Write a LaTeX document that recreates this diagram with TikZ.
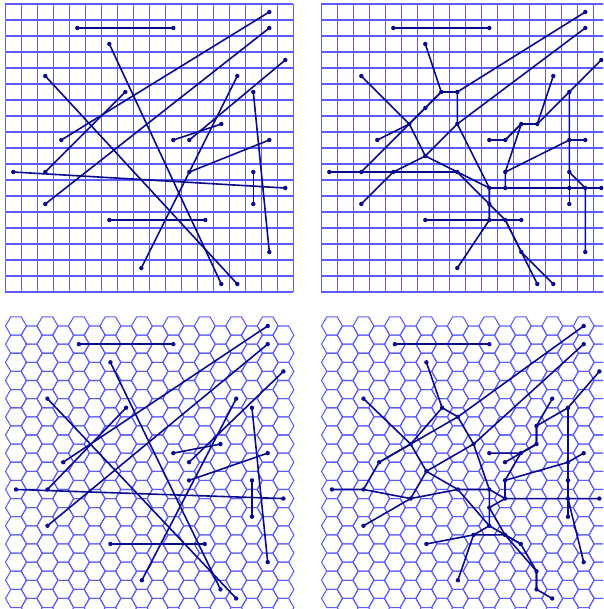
\documentclass[tikz,border=0pt]{standalone}
\usepackage{tikz}
\definecolor{gridblue}{RGB}{92,92,255}
\definecolor{segblue}{RGB}{10,10,145}

\begin{document}
\begin{tikzpicture}[x=1pt,y=-1pt,
  gridline/.style={color=gridblue,line width=1.05pt},
  seg/.style={color=segblue,line width=1.6pt,line join=round,line cap=round},
  dot/.style={fill=segblue}]
\useasboundingbox (0,0) rectangle (603,609);
\clip (0,0) rectangle (603,609);

% square pixels: input (left) and snapped (right)
\begin{scope}[shift={(13.3pt,-12pt)},x=16pt,y=-16pt]
\foreach \k in {0,...,18} {
  \draw[gridline] (\k-0.5,-0.5) -- (\k-0.5,17.5);
  \draw[gridline] (-0.5,\k-0.5) -- (17.5,\k-0.5);
}
\foreach \col in {0,...,17} \foreach \row in {0,...,17} \coordinate (sqa\col-\row) at (\col,\row);
\end{scope}
\begin{scope}[shift={(329.3pt,-12pt)},x=16pt,y=-16pt]
\foreach \k in {0,...,18} {
  \draw[gridline] (\k-0.5,-0.5) -- (\k-0.5,17.5);
  \draw[gridline] (-0.5,\k-0.5) -- (17.5,\k-0.5);
}
\foreach \col in {0,...,17} \foreach \row in {0,...,17} \coordinate (sqb\col-\row) at (\col,\row);
\end{scope}

% hexagonal pixels: input (left) and snapped (right)
\begin{scope}[shift={(16pt,-326pt)},x=15.73pt,y=-15.73pt]
\foreach \col in {0,...,17} \foreach \row in {0,...,15} {
  \coordinate (hxa\col-\row) at ({\col},{(\row+mod(\col,2)/2)*1.1547});
  \draw[gridline] (hxa\col-\row) ++(0.6667,0) -- ++(-0.3333,0.5774) -- ++(-0.6667,0) -- ++(-0.3333,-0.5774) -- ++(0.3333,-0.5774) -- ++(0.6667,0) -- cycle;
}
\end{scope}
\begin{scope}[shift={(332pt,-326pt)},x=15.73pt,y=-15.73pt]
\foreach \col in {0,...,17} \foreach \row in {0,...,15} {
  \coordinate (hxb\col-\row) at ({\col},{(\row+mod(\col,2)/2)*1.1547});
  \draw[gridline] (hxb\col-\row) ++(0.6667,0) -- ++(-0.3333,0.5774) -- ++(-0.6667,0) -- ++(-0.3333,-0.5774) -- ++(0.3333,-0.5774) -- ++(0.6667,0) -- cycle;
}
\end{scope}

% input segments, square
\draw[seg] (sqa4-1) -- (sqa10-1);
\draw[seg] (sqa16-0) -- (sqa3-8);
\draw[seg] (sqa16-1) -- (sqa2-12);
\draw[seg] (sqa17-3) -- (sqa11-8);
\draw[seg] (sqa6-2) -- (sqa13-17);
\draw[seg] (sqa2-4) -- (sqa14-17);
\draw[seg] (sqa7-5) -- (sqa2-10);
\draw[seg] (sqa14-4) -- (sqa8-16);
\draw[seg] (sqa15-5) -- (sqa16-15);
\draw[seg] (sqa10-8) -- (sqa13-7);
\draw[seg] (sqa11-10) -- (sqa16-8);
\draw[seg] (sqa0-10) -- (sqa17-11);
\draw[seg] (sqa15-10) -- (sqa15-12);
\draw[seg] (sqa6-13) -- (sqa12-13);
\foreach \p in {4-1,10-1,16-0,3-8,16-1,2-12,17-3,11-8,6-2,13-17,2-4,14-17,7-5,2-10,
  14-4,8-16,15-5,16-15,10-8,13-7,11-10,16-8,0-10,17-11,15-10,15-12,6-13,12-13}
  \fill[dot] (sqa\p) circle (2.2pt);

% snapped segments, square
\draw[seg] (sqb4-1) -- (sqb10-1);
\draw[seg] (sqb16-0) -- (sqb8-5) -- (sqb7-5) -- (sqb6-6) -- (sqb5-7) -- (sqb3-8);
\draw[seg] (sqb16-1) -- (sqb8-7) -- (sqb6-9) -- (sqb4-10) -- (sqb2-12);
\draw[seg] (sqb17-3) -- (sqb15-5) -- (sqb13-7) -- (sqb12-7) -- (sqb11-8);
\draw[seg] (sqb6-2) -- (sqb7-5) -- (sqb8-5) -- (sqb8-7) -- (sqb10-11) -- (sqb10-12) -- (sqb11-13) -- (sqb12-15) -- (sqb13-17);
\draw[seg] (sqb2-4) -- (sqb5-7) -- (sqb6-9) -- (sqb8-10) -- (sqb10-12) -- (sqb10-13) -- (sqb11-13) -- (sqb12-15) -- (sqb14-17);
\draw[seg] (sqb7-5) -- (sqb6-6) -- (sqb5-7) -- (sqb2-10);
\draw[seg] (sqb14-4) -- (sqb13-7) -- (sqb12-7) -- (sqb11-10) -- (sqb11-11) -- (sqb10-11) -- (sqb10-12) -- (sqb10-13) -- (sqb8-16);
\draw[seg] (sqb15-5) -- (sqb15-8) -- (sqb15-10) -- (sqb16-11) -- (sqb16-15);
\draw[seg] (sqb10-8) -- (sqb11-8) -- (sqb12-7) -- (sqb13-7);
\draw[seg] (sqb11-10) -- (sqb15-8) -- (sqb16-8);
\draw[seg] (sqb0-10) -- (sqb2-10) -- (sqb4-10) -- (sqb8-10) -- (sqb10-11) -- (sqb11-11) -- (sqb15-11) -- (sqb16-11) -- (sqb17-11);
\draw[seg] (sqb15-10) -- (sqb15-12);
\draw[seg] (sqb6-13) -- (sqb12-13);
\foreach \p in {4-1,10-1,16-0,3-8,16-1,2-12,17-3,11-8,6-2,13-17,2-4,14-17,7-5,2-10,
  14-4,8-16,15-5,16-15,10-8,13-7,11-10,16-8,0-10,17-11,15-10,15-12,6-13,12-13,
  8-5,6-6,5-7,8-7,6-9,4-10,12-7,10-11,11-13,12-15,10-12,8-10,10-13,11-11,15-8,16-11,15-11}
  \fill[dot] (sqb\p) circle (2.2pt);

% input segments, hexagonal
\draw[seg] (hxa4-1) -- (hxa10-1);
\draw[seg] (hxa16-0) -- (hxa3-7);
\draw[seg] (hxa16-1) -- (hxa2-11);
\draw[seg] (hxa17-2) -- (hxa11-7);
\draw[seg] (hxa6-2) -- (hxa13-14);
\draw[seg] (hxa2-4) -- (hxa14-15);
\draw[seg] (hxa7-4) -- (hxa2-9);
\draw[seg] (hxa14-4) -- (hxa8-14);
\draw[seg] (hxa15-4) -- (hxa16-13);
\draw[seg] (hxa10-7) -- (hxa13-6);
\draw[seg] (hxa11-8) -- (hxa16-7);
\draw[seg] (hxa0-9) -- (hxa17-9);
\draw[seg] (hxa15-8) -- (hxa15-10);
\draw[seg] (hxa6-12) -- (hxa12-12);
\foreach \p in {4-1,10-1,16-0,3-7,16-1,2-11,17-2,11-7,6-2,13-14,2-4,14-15,7-4,2-9,
  14-4,8-14,15-4,16-13,10-7,13-6,11-8,16-7,0-9,17-9,15-8,15-10,6-12,12-12}
  \fill[dot] (hxa\p) circle (2.2pt);

% snapped segments, hexagonal
\draw[seg] (hxb4-1) -- (hxb10-1);
\draw[seg] (hxb16-0) -- (hxb8-5) -- (hxb5-6) -- (hxb3-7);
\draw[seg] (hxb16-1) -- (hxb9-6) -- (hxb6-8) -- (hxb5-9) -- (hxb2-11);
\draw[seg] (hxb17-2) -- (hxb15-4) -- (hxb13-5) -- (hxb13-6) -- (hxb12-7) -- (hxb11-7);
\draw[seg] (hxb6-2) -- (hxb7-4) -- (hxb8-5) -- (hxb9-6) -- (hxb10-9) -- (hxb10-10) -- (hxb11-11) -- (hxb12-12) -- (hxb13-13) -- (hxb13-14);
\draw[seg] (hxb2-4) -- (hxb5-6) -- (hxb6-8) -- (hxb8-9) -- (hxb10-11) -- (hxb11-11) -- (hxb13-13) -- (hxb13-14) -- (hxb14-15);
\draw[seg] (hxb7-4) -- (hxb5-6) -- (hxb3-7) -- (hxb2-9);
\draw[seg] (hxb14-4) -- (hxb13-5) -- (hxb13-6) -- (hxb12-7) -- (hxb11-8) -- (hxb11-9) -- (hxb10-10) -- (hxb10-11) -- (hxb9-11) -- (hxb8-14);
\draw[seg] (hxb15-4) -- (hxb15-7) -- (hxb15-8) -- (hxb15-9) -- (hxb16-13);
\draw[seg] (hxb10-7) -- (hxb12-7) -- (hxb13-6);
\draw[seg] (hxb11-8) -- (hxb15-7) -- (hxb16-7);
\draw[seg] (hxb0-9) -- (hxb2-9) -- (hxb5-9) -- (hxb8-9) -- (hxb10-9) -- (hxb11-9) -- (hxb15-9) -- (hxb17-9);
\draw[seg] (hxb15-8) -- (hxb15-10);
\draw[seg] (hxb6-12) -- (hxb9-11) -- (hxb11-11) -- (hxb12-12);
\foreach \p in {4-1,10-1,16-0,3-7,16-1,2-11,17-2,11-7,6-2,13-14,2-4,14-15,7-4,2-9,
  14-4,8-14,15-4,16-13,10-7,13-6,11-8,16-7,0-9,17-9,15-8,15-10,6-12,12-12,
  8-5,5-6,9-6,6-8,5-9,13-5,12-7,13-13,10-10,10-9,10-11,8-9,11-11,11-9,9-11,15-7,15-9}
  \fill[dot] (hxb\p) circle (2.2pt);

\end{tikzpicture}
\end{document}
